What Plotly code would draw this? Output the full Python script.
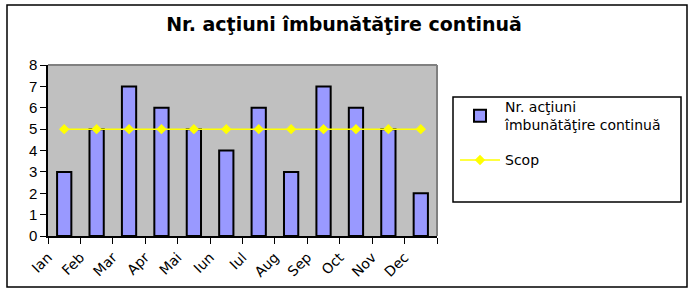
import plotly.graph_objects as go

months = ["Ian", "Feb", "Mar", "Apr", "Mai", "Iun", "Iul", "Aug", "Sep", "Oct", "Nov", "Dec"]
actions = [3, 5, 7, 6, 5, 4, 6, 3, 7, 6, 5, 2]
target = [5, 5, 5, 5, 5, 5, 5, 5, 5, 5, 5, 5]
y_ticks = [0, 1, 2, 3, 4, 5, 6, 7, 8]

xs = list(range(len(months)))
tickvals = [i - 0.5 for i in range(len(months) + 1)]
ticktext = months + [""]

W, H = 696, 293
L, R, T, B = 48, 437, 65, 236
pw, ph = R - L, B - T

def px(x):
    return (x - L) / pw

def py(y):
    return (B - y) / ph

fig = go.Figure()
fig.add_trace(go.Bar(
    x=xs, y=actions, name="Nr. acţiuni<br>îmbunătăţire continuă", legendgroup="a",
    marker=dict(color="#9999FF", line=dict(color="black", width=2)),
    width=0.44,
))
fig.add_trace(go.Scatter(
    x=xs, y=target, name="Scop", mode="lines+markers", legendgroup="b",
    line=dict(color="#FFFF00", width=1.5),
    marker=dict(symbol="diamond", size=8, color="#FFFF00"),
))

shapes = [
    # outer frame
    dict(type="rect", xref="paper", yref="paper", x0=px(7), x1=px(687), y0=py(287), y1=py(5),
         line=dict(color="black", width=1.5), fillcolor="rgba(0,0,0,0)", layer="below"),
    # plot area top/right border
    dict(type="line", xref="paper", yref="paper", x0=0, x1=1, y0=1, y1=1,
         line=dict(color="#808080", width=2)),
    dict(type="line", xref="paper", yref="paper", x0=1, x1=1, y0=0, y1=1,
         line=dict(color="#808080", width=2)),
    # legend box
    dict(type="rect", xref="paper", yref="paper", x0=px(453), x1=px(681), y0=py(202), y1=py(97),
         line=dict(color="black", width=1.5), fillcolor="white", layer="below"),
]

fig.update_layout(
    width=W, height=H,
    margin=dict(l=L, r=W - R, t=T, b=H - B, pad=0),
    paper_bgcolor="white", plot_bgcolor="#C0C0C0",
    font=dict(family="Liberation Sans, Arial", size=13, color="black"),
    title=dict(text="<b>Nr. acţiuni îmbunătăţire continuă</b>", x=344 / W, xref="container",
               xanchor="center", y=1 - 24 / H, yref="container", yanchor="middle",
               font=dict(size=19, family="DejaVu Sans", color="black")),
    showlegend=True,
    legend=dict(x=px(455), y=py(91), xanchor="left", yanchor="top",
                bgcolor="rgba(0,0,0,0)", borderwidth=0,
                font=dict(size=14, family="DejaVu Sans"),
                tracegroupgap=14, itemwidth=40, traceorder="grouped"),
    shapes=shapes,
)
fig.update_xaxes(
    range=[-0.5, len(months) - 0.5], tickmode="array", tickvals=tickvals, ticktext=ticktext,
    tickangle=-45, ticks="outside", ticklen=6, tickcolor="black", showgrid=False,
    showline=True, linecolor="black", linewidth=1.5, zeroline=False,
    tickfont=dict(size=14, family="DejaVu Sans"),
)
fig.update_yaxes(
    range=[0, 8], tickmode="array", tickvals=y_ticks, ticks="outside", ticklen=6,
    tickcolor="black", showgrid=False, showline=True, linecolor="black", linewidth=1.5,
    zeroline=False, tickfont=dict(size=15, family="Liberation Sans"),
)
fig.write_html("out.html")
